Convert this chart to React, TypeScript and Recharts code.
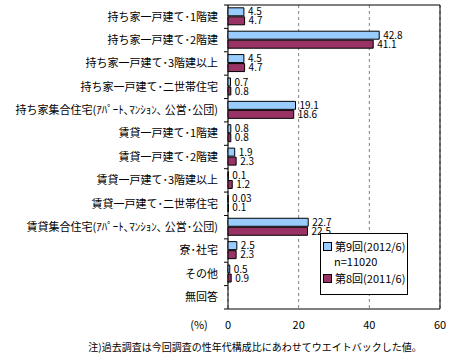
import React from "react"
import {
  Bar,
  BarChart,
  CartesianGrid,
  LabelList,
  Legend,
  ReferenceArea,
  XAxis,
  YAxis,
} from "recharts"

const categories = [
  "持ち家一戸建て･1階建",
  "持ち家一戸建て･2階建",
  "持ち家一戸建て･3階建以上",
  "持ち家一戸建て･二世帯住宅",
  "持ち家集合住宅(ｱﾊﾟｰﾄ､ﾏﾝｼｮﾝ､ 公営･公団)",
  "賃貸一戸建て･1階建",
  "賃貸一戸建て･2階建",
  "賃貸一戸建て･3階建以上",
  "賃貸一戸建て･二世帯住宅",
  "賃貸集合住宅(ｱﾊﾟｰﾄ､ﾏﾝｼｮﾝ､ 公営･公団)",
  "寮･社宅",
  "その他",
  "無回答",
]

// 第9回 (2012/6), n=11020
const wave9 = [4.5, 42.8, 4.5, 0.7, 19.1, 0.8, 1.9, 0.1, 0.03, 22.7, 2.5, 0.5, null]
// 第8回 (2011/6)
const wave8 = [4.7, 41.1, 4.7, 0.8, 18.6, 0.8, 2.3, 1.2, 0.1, 22.5, 2.3, 0.9, null]

const xTicks = [0, 20, 40, 60]

const seriesNames = ["第9回(2012/6)", "第8回(2011/6)"]
const sampleNote = "n=11020"
const footnote = "注)過去調査は今回調査の性年代構成比にあわせてウエイトバックした値。"

const data = categories.map((name, i) => ({
  name,
  w9: wave9[i],
  w8: wave8[i],
}))

const FONT = '"Noto Sans CJK JP", "Noto Sans", sans-serif'
const WIDTH = 452
const HEIGHT = 360
const MARGIN = { top: 5, right: 12, bottom: 21, left: 0 }
const X_AXIS_H = 30
const PLOT_H = HEIGHT - MARGIN.top - MARGIN.bottom - X_AXIS_H

function CategoryTick(props: any) {
  const { x, y, payload, index } = props
  const band = PLOT_H / categories.length
  return (
    <g>
      <line x1={x + 6} x2={x + 10} y1={y - band / 2} y2={y - band / 2} stroke="#000" />
      {index === categories.length - 1 && (
        <line x1={x + 6} x2={x + 10} y1={y + band / 2} y2={y + band / 2} stroke="#000" />
      )}
      <text x={x} y={y} dy="0.35em" textAnchor="end" fontSize={11} fill="#000" fontFamily={FONT}>
        {payload.value}
      </text>
    </g>
  )
}

function ValueTick(props: any) {
  const { x, y, payload } = props
  return (
    <g>
      {payload.value === 0 && (
        <text x={x - 29} y={y} dy="0.71em" textAnchor="middle" fontSize={11} fill="#000" fontFamily={FONT}>
          (%)
        </text>
      )}
      <text x={x} y={y} dy="0.71em" textAnchor="middle" fontSize={11} fill="#000" fontFamily={FONT}>
        {payload.value}
      </text>
    </g>
  )
}

function LegendBox(props: any) {
  const items: any[] = props.payload || []
  const first = items.find((p) => p.dataKey === "w9")
  const second = items.find((p) => p.dataKey === "w8")
  const row = (color: string, label: string) => (
    <div style={{ display: "flex", alignItems: "center", height: 15 }}>
      <span
        style={{
          display: "inline-block",
          width: 7,
          height: 7,
          background: color,
          border: "1px solid #000",
          marginRight: 3,
        }}
      />
      <span>{label}</span>
    </div>
  )
  return (
    <div
      style={{
        border: "1px solid #000",
        background: "#fff",
        width: 88,
        height: 62,
        boxSizing: "border-box",
        padding: "5px 0 0 2px",
        fontSize: 11,
        lineHeight: "15px",
        fontFamily: FONT,
        color: "#000",
      }}
    >
      {first && row(first.color, first.value)}
      <div style={{ height: 15, paddingLeft: 11 }}>{sampleNote}</div>
      <div style={{ height: 2 }} />
      {second && row(second.color, second.value)}
    </div>
  )
}

export default function App() {
  return (
    <div style={{ position: "relative", width: WIDTH, height: HEIGHT, background: "#fff" }}>
      <style>{`body{margin:0}`}</style>
      <BarChart
        width={WIDTH}
        height={HEIGHT}
        data={data}
        layout="vertical"
        margin={MARGIN}
        barCategoryGap="12%"
        barGap={1}
      >
        <CartesianGrid horizontal={false} stroke="#808080" strokeDasharray="3 3" />
        <XAxis
          type="number"
          domain={[0, 60]}
          ticks={xTicks}
          height={X_AXIS_H}
          axisLine={false}
          tickLine={false}
          tickSize={0}
          tickMargin={12}
          tick={<ValueTick />}
        />
        <YAxis
          type="category"
          dataKey="name"
          width={228}
          axisLine={false}
          tickLine={false}
          tickSize={4}
          tickMargin={6}
          interval={0}
          tick={<CategoryTick />}
        />
        <ReferenceArea x1={0} x2={60} fill="none" stroke="#000" strokeWidth={1} />
        <Legend
          layout="horizontal"
          verticalAlign="middle"
          align="center"
          wrapperStyle={{ position: "absolute", left: 320, top: 233, width: 88 }}
          content={<LegendBox />}
        />
        <Bar dataKey="w9" name={seriesNames[0]} fill="#99CCFF" stroke="#000" strokeWidth={1} isAnimationActive={false}>
          <LabelList dataKey="w9" position="right" offset={4} fontSize={10} fill="#000" fontFamily={FONT} />
        </Bar>
        <Bar dataKey="w8" name={seriesNames[1]} fill="#993366" stroke="#000" strokeWidth={1} isAnimationActive={false}>
          <LabelList dataKey="w8" position="right" offset={4} fontSize={10} fill="#000" fontFamily={FONT} />
        </Bar>
      </BarChart>
      <div
        style={{
          position: "absolute",
          left: 0,
          width: 510,
          top: 339,
          textAlign: "center",
          fontSize: 10,
          fontFamily: FONT,
          color: "#000",
          whiteSpace: "nowrap",
        }}
      >
        {footnote}
      </div>
    </div>
  )
}
